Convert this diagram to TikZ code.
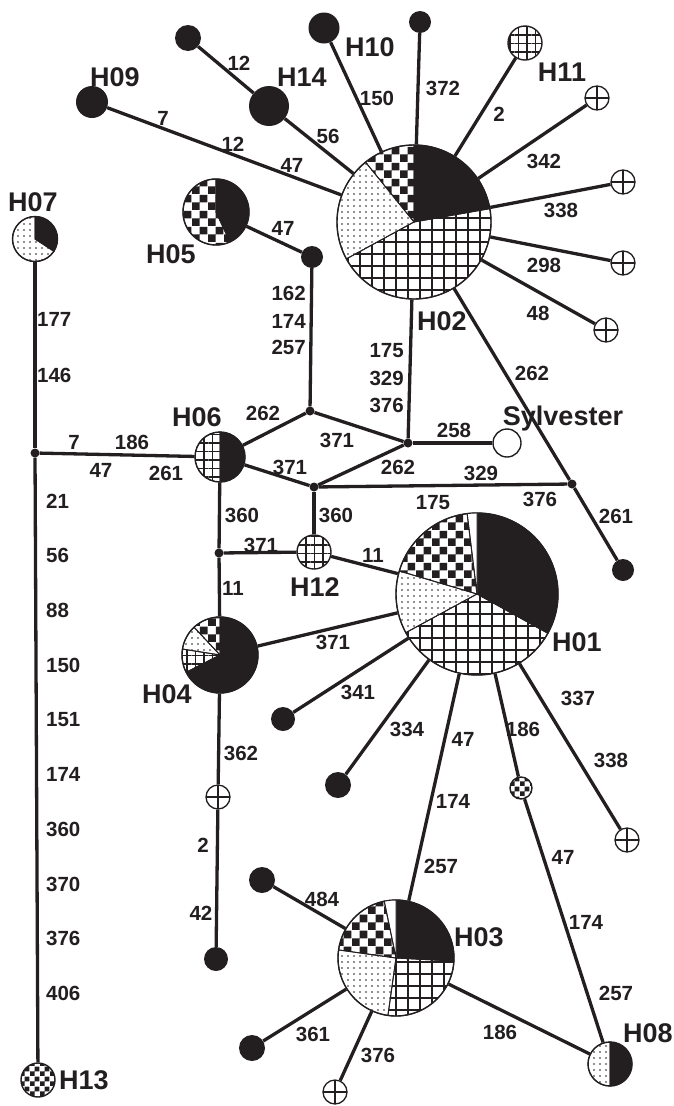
\documentclass[tikz,border=0pt]{standalone}
\usepackage{fontspec}
\setmainfont{Liberation Sans}
\usepackage{xcolor}
\usepackage{tikz}
\usetikzlibrary{patterns,patterns.meta}
\definecolor{ink}{RGB}{35,31,32}
\pgfdeclarepatternformonly{bigchecker}{\pgfpointorigin}{\pgfqpoint{16pt}{16pt}}{\pgfqpoint{16pt}{16pt}}{%
\pgfpathrectangle{\pgfpointorigin}{\pgfqpoint{8pt}{8pt}}%
\pgfpathrectangle{\pgfqpoint{8pt}{8pt}}{\pgfqpoint{8pt}{8pt}}%
\pgfusepath{fill}}
\pgfdeclarepatternformonly{smallchecker}{\pgfpointorigin}{\pgfqpoint{10pt}{10pt}}{\pgfqpoint{10pt}{10pt}}{%
\pgfpathrectangle{\pgfpointorigin}{\pgfqpoint{5pt}{5pt}}%
\pgfpathrectangle{\pgfqpoint{5pt}{5pt}}{\pgfqpoint{5pt}{5pt}}%
\pgfusepath{fill}}
\newcommand{\hslice}[5]{\draw[ink,line width=0.9pt,#5] (#1.center) -- ++(#2:#4) arc[start angle=#2,end angle=#3,radius=#4] -- cycle;}

\begin{document}
\begin{tikzpicture}[
x=1pt,y=1pt,
edge/.style={draw=ink,line width=3.3pt},
pie/.style={circle,draw=ink,fill=white,line width=1.4pt,inner sep=0pt,minimum size=#1},
blob/.style={circle,fill=ink,inner sep=0pt,minimum size=#1},
crossnode/.style={circle,draw=ink,fill=white,line width=1.3pt,inner sep=0pt,minimum size=24pt,
  path picture={\draw[ink,line width=1.3pt] (path picture bounding box.north) -- (path picture bounding box.south)
  (path picture bounding box.west) -- (path picture bounding box.east);}},
junction/.style={circle,fill=ink,inner sep=0pt,minimum size=9pt},
pgrid/.style={pattern={Hatch[distance=12pt,angle=0,line width=1.1pt]},pattern color=ink},
pgridsm/.style={pattern={Hatch[distance=8.5pt,angle=0,line width=1.1pt]},pattern color=ink},
pdots/.style={pattern={Dots[distance=6pt,radius=0.95pt]},pattern color=ink},
pcheck/.style={pattern=bigchecker,pattern color=ink},
pchecksm/.style={pattern=smallchecker,pattern color=ink},
hlab/.style={font=\fontsize{27}{27}\selectfont\bfseries,text=ink,inner sep=0pt,text depth=0pt},
elab/.style={font=\fontsize{20.5}{20.5}\selectfont\bfseries,text=ink,inner sep=0pt,text depth=0pt}
]
\useasboundingbox (0,0) rectangle (673,-1106);

\node[pie=154pt] (h02) at (414,-222) {};
\node[pie=162pt] (h01) at (477,-594) {};
\node[pie=116pt] (h03) at (396,-958) {};
\node[pie=76pt] (h04) at (220,-655) {};
\node[pie=66pt] (h05) at (216,-212) {};
\node[pie=50pt] (h06) at (220,-457) {};
\node[pie=45pt] (h07) at (35,-239) {};
\node[pie=44pt] (h08) at (610,-1064) {};
\node[pie=34pt,pgridsm] (h11) at (525,-43) {};
\node[pie=34pt,pgridsm] (h12) at (314,-552) {};
\node[pie=34pt,pchecksm] (h13) at (38,-1080) {};
\node[pie=22pt,pchecksm] (n186) at (521,-788) {};
\node[pie=28pt] (syl) at (507,-443) {};

\node[blob=40pt] (h14) at (269,-106) {};
\node[blob=31pt] (h10) at (324,-28) {};
\node[blob=32pt] (h09) at (92,-102) {};
\node[blob=22pt] (n372) at (420,-22) {};
\node[blob=26pt] (n12) at (188,-38) {};
\node[blob=22pt] (n47) at (312,-257) {};
\node[blob=22pt] (n261) at (623,-570) {};
\node[blob=24pt] (n341) at (283,-719) {};
\node[blob=26pt] (n334) at (338,-785) {};
\node[blob=24pt] (n42) at (216,-959) {};
\node[blob=26pt] (n484) at (262,-880) {};
\node[blob=26pt] (n361) at (252,-1048) {};

\node[crossnode] (c342) at (597,-98) {};
\node[crossnode] (c338) at (623,-182) {};
\node[crossnode] (c298) at (623,-263) {};
\node[crossnode] (c48) at (606,-330) {};
\node[crossnode] (c362) at (218,-797) {};
\node[crossnode] (c376) at (335,-1092) {};
\node[crossnode] (c338b) at (627,-840) {};

\node[junction] (j1) at (35,-453) {};
\node[junction] (j2) at (310,-411) {};
\node[junction] (j3) at (408,-443) {};
\node[junction] (j4) at (314,-487) {};
\node[junction] (j5) at (572,-484) {};
\node[junction] (j6) at (219,-553) {};

\hslice{h02}{10}{90}{77}{fill=ink}
\hslice{h02}{90}{129}{77}{pcheck}
\hslice{h02}{129}{208.6}{77}{pdots}
\hslice{h02}{208.6}{370}{77}{pgrid}

\hslice{h01}{-29}{90}{81}{fill=ink}
\hslice{h01}{90}{97}{81}{fill=white}
\hslice{h01}{97}{163.5}{81}{pcheck}
\hslice{h01}{163.5}{208.5}{81}{pdots}
\hslice{h01}{208.5}{331}{81}{pgrid}

\hslice{h03}{-3}{90}{58}{fill=ink}
\hslice{h03}{90}{101.7}{58}{fill=white}
\hslice{h03}{101.7}{172}{58}{pcheck}
\hslice{h03}{172}{262}{58}{pdots}
\hslice{h03}{262}{357}{58}{pgrid}

\hslice{h04}{207}{450}{38}{fill=ink}
\hslice{h04}{90}{133}{38}{pcheck}
\hslice{h04}{133}{171}{38}{pdots}
\hslice{h04}{171}{207}{38}{pgridsm}

\hslice{h05}{-65}{90}{33}{fill=ink}
\hslice{h05}{90}{295}{33}{pcheck}

\hslice{h06}{-90}{90}{25}{fill=ink}
\hslice{h06}{90}{270}{25}{pgridsm}

\hslice{h07}{-33}{90}{22.5}{fill=ink}
\hslice{h07}{90}{327}{22.5}{pdots}

\hslice{h08}{-90}{90}{22}{fill=ink}
\hslice{h08}{90}{270}{22}{pdots}

\draw[edge] (h09) -- (h02);
\draw[edge] (n12) -- (h14);
\draw[edge] (h14) -- (h02);
\draw[edge] (h10) -- (h02);
\draw[edge] (n372) -- (h02);
\draw[edge] (h11) -- (h02);
\draw[edge] (c342) -- (h02);
\draw[edge] (c338) -- (h02);
\draw[edge] (c298) -- (h02);
\draw[edge] (c48) -- (h02);
\draw[edge] (h05) -- (n47);
\draw[edge] (n47) -- (j2);
\draw[edge] (h02) -- (j3);
\draw[edge] (h02) -- (j5) -- (n261);
\draw[edge] (j2) -- (h06);
\draw[edge] (j2) -- (j3);
\draw[edge] (j3) -- (syl);
\draw[edge] (j3) -- (j4);
\draw[edge] (h06) -- (j4);
\draw[edge] (j4) -- (j5);
\draw[edge] (j4) -- (h12);
\draw[edge] (h06) -- (j6);
\draw[edge] (j6) -- (h12);
\draw[edge] (j6) -- (h04);
\draw[edge] (h12) -- (h01);
\draw[edge] (h04) -- (h01);
\draw[edge] (h01) -- (n341);
\draw[edge] (h01) -- (n334);
\draw[edge] (h01) -- (h03);
\draw[edge] (h01) -- (n186);
\draw[edge] (n186) -- (h08);
\draw[edge] (h01) -- (c338b);
\draw[edge] (h04) -- (c362);
\draw[edge] (c362) -- (n42);
\draw[edge] (h03) -- (n484);
\draw[edge] (h03) -- (n361);
\draw[edge] (h03) -- (c376);
\draw[edge] (h03) -- (h08);
\draw[edge] (h07) -- (j1);
\draw[edge] (j1) -- (h06);
\draw[edge] (j1) -- (h13);

\foreach \t/\x/\y [count=\i] in {H09/115/77,H14/302/77,H10/370/47,H11/562/72,H07/33/202,H05/171/254,
  H02/442/321,H06/197/417,Sylvester/563/416,H12/315/587,H01/577/642,H04/167/694,H03/479/937,
  H08/648/1033,H13/84/1080}
  \node[hlab] (hl\i) at (\x,-\y) {\t};

\foreach \t/\x/\y [count=\i] in {7/163/118,12/233/144,47/292/165,12/239/63,56/328/136,150/377/98,
  372/443/88,2/499/114,342/544/161,338/561/210,298/544/265,48/538/313,47/283/228,262/532/373,
  258/454/430,371/337/440,262/263/413,7/74/442,186/132/442,47/101/470,261/166/473,371/290/467,
  262/398/467,329/481/473,175/433/502,376/540/499,261/616/516,360/336/515,360/242/515,371/261/545,
  11/373/555,11/233/588,371/333/642,341/358/692,334/407/729,362/241/753,337/578/698,47/463/739,
  186/523/729,338/611/760,174/453/801,2/203/845,42/201/913,257/441/866,484/322/899,47/563/857,
  174/586/922,257/616/993,186/500/1032,361/313/1034,376/378/1055}
  \node[elab] (el\i) at (\x,-\y) {\t};

\foreach \t/\y [count=\i] in {162/293,174/321,257/347}
  \node[elab,anchor=east] (ea\i) at (306,-\y) {\t};
\foreach \t/\y [count=\i] in {175/350,329/378,376/405}
  \node[elab,anchor=east] (eb\i) at (404,-\y) {\t};
\foreach \t/\y [count=\i] in {177/319,146/375}
  \node[elab,anchor=west] (ec\i) at (37,-\y) {\t};
\foreach \t [count=\i] in {21,56,88,150,151,174,360,370,376,406}
  \node[elab,anchor=west] (ed\i) at (46,{-501-54.7*(\i-1)}) {\t};
\end{tikzpicture}
\end{document}
